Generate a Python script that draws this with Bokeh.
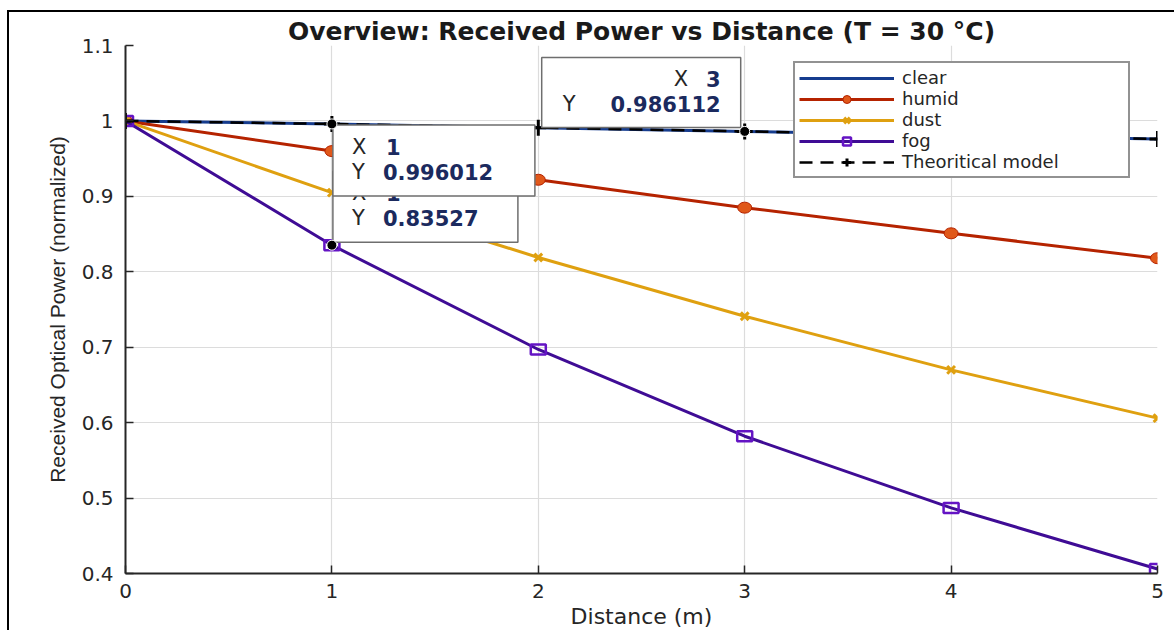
from bokeh.plotting import figure
from bokeh.embed import file_html
from bokeh.resources import INLINE
from bokeh.models import Range1d, FixedTicker, Legend, LegendItem
from bokeh.core.properties import value

# ---------------- data ----------------
distance = [0, 1, 2, 3, 4, 5]
clear = [1.0, 0.996012, 0.991, 0.986112, 0.981, 0.976]
humid = [1.0, 0.960, 0.922, 0.885, 0.851, 0.818]
dust = [1.0, 0.905, 0.819, 0.741, 0.670, 0.606]
fog = [1.0, 0.83527, 0.697, 0.582, 0.487, 0.406]
theory = [1.0, 0.996012, 0.991, 0.986112, 0.981, 0.976]

x_ticks = [0, 1, 2, 3, 4, 5]
y_ticks = [0.4, 0.5, 0.6, 0.7, 0.8, 0.9, 1.0, 1.1]
y_tick_labels = {0.4: "0.4", 0.5: "0.5", 0.6: "0.6", 0.7: "0.7", 0.8: "0.8",
                 0.9: "0.9", 1.0: "1", 1.1: "1.1"}

# data tips: (x, y, label_x, label_y)
tips = [
    (1, 0.83527, "1", "0.83527"),
    (1, 0.996012, "1", "0.996012"),
    (3, 0.986112, "3", "0.986112"),
]

FONT = "DejaVu Sans"
FONT2 = "Liberation Sans"
NAN = float("nan")

p = figure(width=1167, height=620, output_backend="svg", toolbar_location=None,
           x_range=Range1d(0, 5), y_range=Range1d(0.4, 1.1),
           min_border_left=116, min_border_right=19, min_border_top=33, min_border_bottom=59,
           margin=(10, 0, 0, 7),
           styles={"border-left": "2px solid black", "border-top": "2px solid black"})

p.title.text = "Overview: Received Power vs Distance (T = 30 \u00b0C)"
p.title.text_font = FONT
p.title.text_font_size = "25px"
p.title.text_font_style = "bold"
p.title.text_color = "#1a1a1a"
p.title.align = "center"
p.title.offset = 0
p.title.standoff = 0

p.outline_line_color = None
p.background_fill_color = "white"
p.border_fill_color = "white"

for ax in (p.xaxis[0], p.yaxis[0]):
    ax.axis_line_color = "#262626"
    ax.axis_line_width = 2
    ax.major_tick_in = 8
    ax.major_tick_out = 0
    ax.major_tick_line_color = "#262626"
    ax.major_tick_line_width = 1.5
    ax.minor_tick_line_color = None
    ax.major_label_text_font = FONT
    ax.major_label_text_font_size = "20px"
    ax.major_label_text_color = "#262626"
    ax.axis_label_text_font = FONT
    ax.axis_label_text_font_style = "normal"
    ax.axis_label_text_color = "#262626"

p.xaxis.ticker = FixedTicker(ticks=x_ticks)
p.yaxis.ticker = FixedTicker(ticks=y_ticks)
p.yaxis.major_label_overrides = y_tick_labels
p.xaxis.axis_label = "Distance (m)"
p.xaxis.axis_label_text_font_size = "22px"
p.xaxis.axis_label_standoff = 3
p.xaxis.major_label_standoff = 10
p.yaxis.axis_label = "Received Optical Power (normalized)"
p.yaxis.axis_label_text_font = FONT2
p.yaxis.axis_label_text_font_size = "21px"
p.yaxis.axis_label_standoff = 10
p.yaxis.major_label_standoff = 12

p.grid.grid_line_color = "#dcdcdc"
p.grid.grid_line_width = 1.2

# ---------------- series ----------------
c_clear = "#163c8e"
c_humid_line = "#b52300"
c_humid_mark = "#e0581a"
c_dust = "#dfa010"
c_fog_line = "#3f0c95"
c_fog_mark = "#6414c4"

r_clear = p.line(distance, clear, line_color=c_clear, line_width=3)

r_humid = p.line(distance, humid, line_color=c_humid_line, line_width=3)
p.ellipse(distance, humid, width=14, height=11, width_units="screen",
          height_units="screen", fill_color=c_humid_mark, line_color=c_humid_line,
          line_width=1)
r_humid_lg = p.scatter([NAN], [NAN], marker="circle", size=14, fill_color=c_humid_mark,
                       line_color=c_humid_line, line_width=1)

r_dust = p.line(distance, dust, line_color=c_dust, line_width=3)
r_dust_m = p.scatter(distance, dust, marker="x", size=11, line_color=c_dust, line_width=3)

r_fog = p.line(distance, fog, line_color=c_fog_line, line_width=3)
p.rect(distance, fog, width=15, height=10, width_units="screen",
       height_units="screen", fill_color=None, line_color=c_fog_mark, line_width=2.5)
r_fog_lg = p.scatter([NAN], [NAN], marker="square", size=14, fill_color=None,
                     line_color=c_fog_mark, line_width=2.5)

r_th = p.line(distance, theory, line_color="black", line_width=2.5, line_dash="13 8")
r_th_m = p.scatter(distance, theory, marker="cross", size=16, line_color="black", line_width=3)

# ---------------- data tips ----------------
FW, FH = 1032.0, 528.0
def dx(px):
    return px * 5.0 / FW
def dy(px):
    return px * 0.7 / FH

# box offset (left, top) in px from its anchor, width, height, alignment
box_specs = [
    (1, -74, 185, 71, "left"),
    (1, 1, 202, 71, "left"),
    (-203, -74, 199, 70, "right"),
]
navy = "#1b2a5e"
TS = "21px"
for (tx, ty, lx, ly), (ox, oy, bw, bh, align) in zip(tips, box_specs):
    left = tx + dx(ox)
    top = ty - dy(oy)
    right = left + dx(bw)
    bottom = top - dy(bh)
    p.quad(left=[left], right=[right], top=[top], bottom=[bottom],
           fill_color="white", line_color="#6e6e6e", line_width=1.5)
    if align == "left":
        p.text([left], [top], text=["X"], x_offset=19, y_offset=22, text_font=value(FONT),
               text_font_size=TS, text_color="#262626", text_baseline="middle")
        p.text([left], [top], text=[lx], x_offset=53, y_offset=22, text_font=value(FONT),
               text_font_size=TS, text_font_style="bold", text_color=navy,
               text_baseline="middle")
        p.text([left], [top], text=["Y"], x_offset=19, y_offset=47, text_font=value(FONT),
               text_font_size=TS, text_color="#262626", text_baseline="middle")
        p.text([left], [top], text=[ly], x_offset=50, y_offset=47, text_font=value(FONT),
               text_font_size=TS, text_font_style="bold", text_color=navy,
               text_baseline="middle")
    else:
        p.text([right], [top], text=[lx], x_offset=-20, y_offset=22, text_font=value(FONT),
               text_font_size=TS, text_font_style="bold", text_color=navy,
               text_baseline="middle", text_align="right")
        p.text([left], [top], text=["X"], x_offset=132, y_offset=22, text_font=value(FONT),
               text_font_size=TS, text_color="#262626", text_baseline="middle")
        p.text([right], [top], text=[ly], x_offset=-20, y_offset=47, text_font=value(FONT),
               text_font_size=TS, text_font_style="bold", text_color=navy,
               text_baseline="middle", text_align="right")
        p.text([left], [top], text=["Y"], x_offset=21, y_offset=47, text_font=value(FONT),
               text_font_size=TS, text_color="#262626", text_baseline="middle")

p.scatter([t[0] for t in tips], [t[1] for t in tips], marker="circle", size=10,
          fill_color="black", line_color="white", line_width=1)

# ---------------- legend ----------------
legend = Legend(items=[
    LegendItem(label="clear", renderers=[r_clear]),
    LegendItem(label="humid", renderers=[r_humid, r_humid_lg]),
    LegendItem(label="dust", renderers=[r_dust, r_dust_m]),
    LegendItem(label="fog", renderers=[r_fog, r_fog_lg]),
    LegendItem(label="Theoritical model", renderers=[r_th, r_th_m]),
], location=(668, 395))
legend.label_text_font = FONT
legend.label_text_font_size = "18px"
legend.label_text_color = "#262626"
legend.label_text_line_height = 1.0
legend.glyph_width = 95
legend.glyph_height = 20
legend.label_height = 20
legend.label_width = 222
legend.spacing = 0
legend.padding = 4
legend.margin = 0
legend.label_standoff = 8
legend.border_line_color = "#262626"
legend.border_line_width = 2
legend.background_fill_alpha = 1
p.add_layout(legend, "center")

open("out.html", "w").write(file_html(p, INLINE))
